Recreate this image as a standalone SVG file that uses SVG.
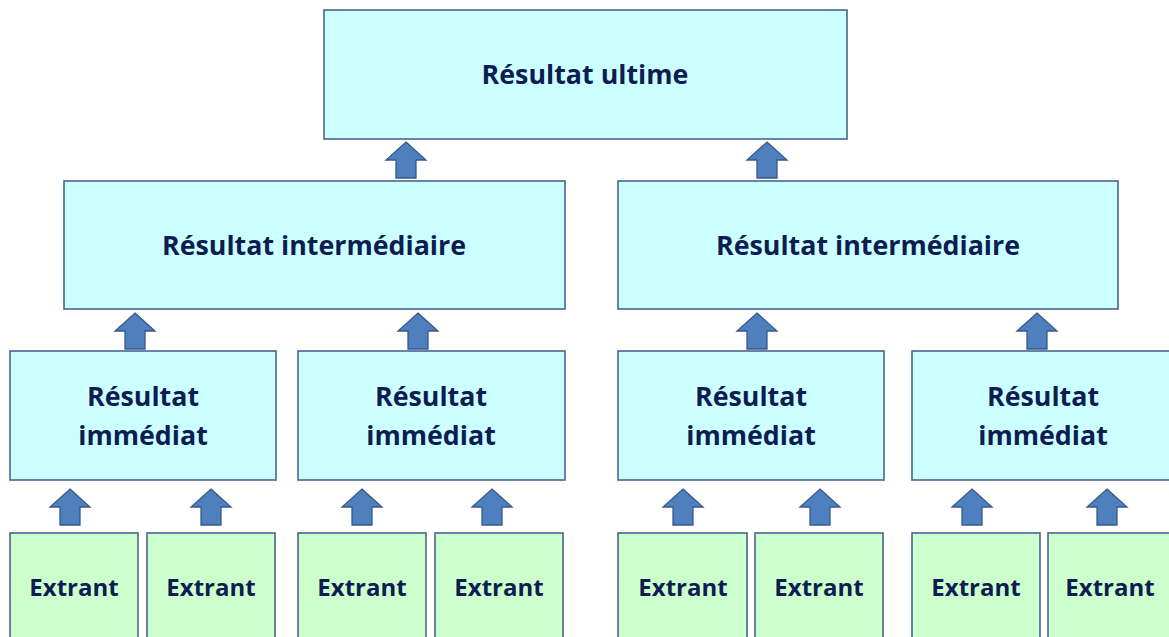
<svg xmlns="http://www.w3.org/2000/svg" xmlns:xlink="http://www.w3.org/1999/xlink" width="1169" height="637" viewBox="0 0 1169 637">
<style>
.res{fill:#ccffff;stroke:#4a6591;stroke-width:1.6}
.ext{fill:#ccffcc;stroke:#4a6591;stroke-width:1.6}
text{font-family:"Open Sans","Liberation Sans",sans-serif;font-weight:bold;fill:#0d1d52;text-anchor:middle}
.big{font-size:26.8px}
.sm{font-size:24px}
.arr{fill:#4f7fbd;stroke:#38598a;stroke-width:1.3}
</style>
<defs>
<path id="up" d="M0,0 L20,18 L10,18 L10,36 L-10,36 L-10,18 L-20,18 Z"/>
</defs>
<rect width="1169" height="637" fill="#ffffff"/>
<g id="ultime"><rect class="res" x="324" y="10" width="523" height="129"/><text class="big" x="585" y="84">Résultat ultime</text></g>
<g id="inter1"><rect class="res" x="64" y="181" width="501" height="128"/><text class="big" x="314" y="255">Résultat intermédiaire</text></g>
<g id="inter2"><rect class="res" x="618" y="181" width="500" height="128"/><text class="big" x="868" y="255">Résultat intermédiaire</text></g>
<g id="imm1"><rect class="res" x="10" y="351" width="266" height="129"/><text class="big" x="143" y="406">Résultat</text><text class="big" x="143" y="445">immédiat</text></g>
<g id="imm2"><rect class="res" x="298" y="351" width="267" height="129"/><text class="big" x="431" y="406">Résultat</text><text class="big" x="431" y="445">immédiat</text></g>
<g id="imm3"><rect class="res" x="618" y="351" width="266" height="129"/><text class="big" x="751" y="406">Résultat</text><text class="big" x="751" y="445">immédiat</text></g>
<g id="imm4"><rect class="res" x="912" y="351" width="262" height="129"/><text class="big" x="1043" y="406">Résultat</text><text class="big" x="1043" y="445">immédiat</text></g>
<g id="ext1"><rect class="ext" x="10" y="533" width="128" height="110"/><text class="sm" x="74" y="596">Extrant</text></g>
<g id="ext2"><rect class="ext" x="147" y="533" width="128" height="110"/><text class="sm" x="211" y="596">Extrant</text></g>
<g id="ext3"><rect class="ext" x="298" y="533" width="128" height="110"/><text class="sm" x="362" y="596">Extrant</text></g>
<g id="ext4"><rect class="ext" x="435" y="533" width="128" height="110"/><text class="sm" x="499" y="596">Extrant</text></g>
<g id="ext5"><rect class="ext" x="618" y="533" width="129" height="110"/><text class="sm" x="683" y="596">Extrant</text></g>
<g id="ext6"><rect class="ext" x="755" y="533" width="128" height="110"/><text class="sm" x="819" y="596">Extrant</text></g>
<g id="ext7"><rect class="ext" x="912" y="533" width="128" height="110"/><text class="sm" x="976" y="596">Extrant</text></g>
<g id="ext8"><rect class="ext" x="1048" y="533" width="128" height="110"/><text class="sm" x="1110" y="596">Extrant</text></g>
<g id="connectors" class="arr">
<use xlink:href="#up" x="406" y="142"/>
<use xlink:href="#up" x="767" y="142"/>
<use xlink:href="#up" x="135" y="313"/>
<use xlink:href="#up" x="418" y="313"/>
<use xlink:href="#up" x="757" y="313"/>
<use xlink:href="#up" x="1037" y="313"/>
<use xlink:href="#up" x="70" y="489"/>
<use xlink:href="#up" x="211" y="489"/>
<use xlink:href="#up" x="362" y="489"/>
<use xlink:href="#up" x="492" y="489"/>
<use xlink:href="#up" x="683" y="489"/>
<use xlink:href="#up" x="820" y="489"/>
<use xlink:href="#up" x="972" y="489"/>
<use xlink:href="#up" x="1107" y="489"/>
</g>
</svg>
